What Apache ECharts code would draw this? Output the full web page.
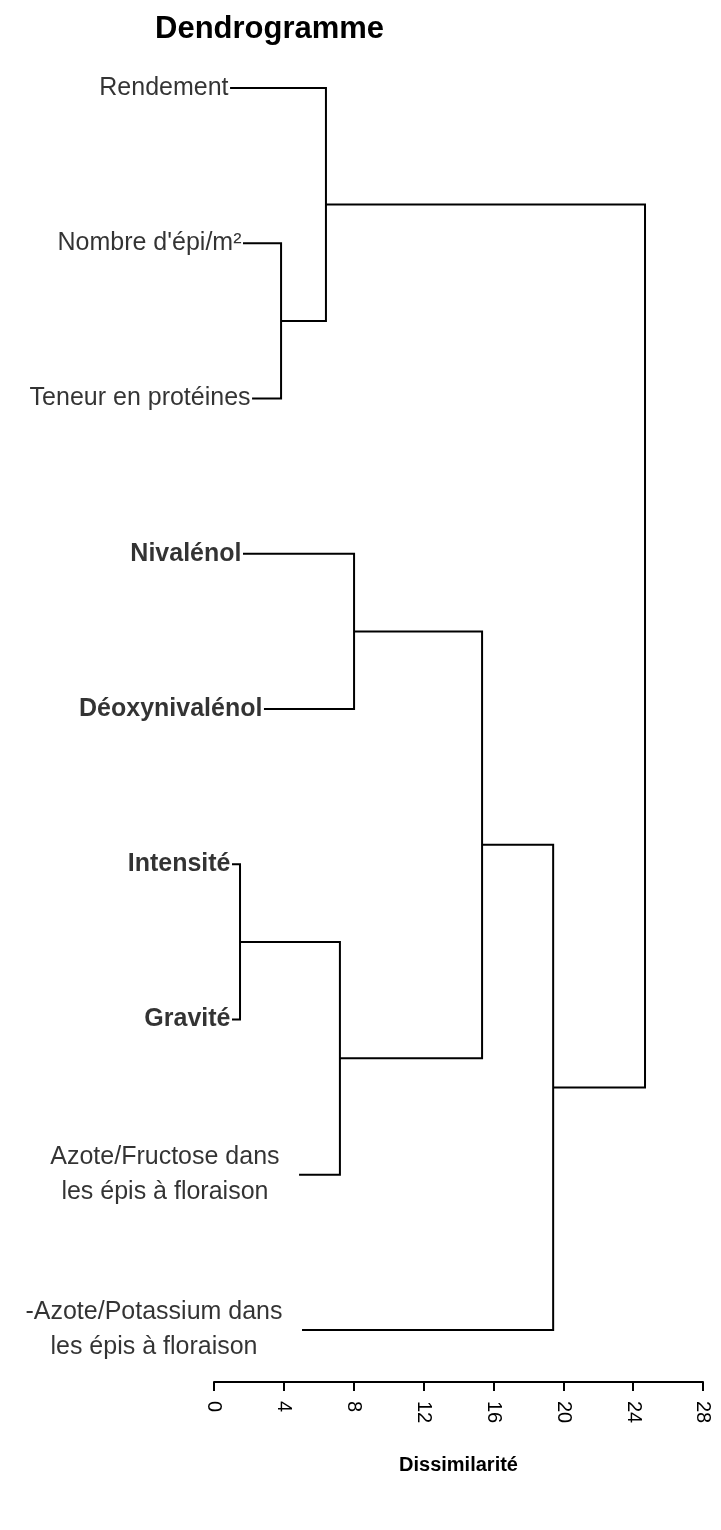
<!DOCTYPE html>
<html>
<head>
<meta charset="utf-8">
<script src="https://cdn.jsdelivr.net/npm/echarts@6/dist/echarts.min.js"></script>
<style>
  html, body { margin: 0; padding: 0; background: #fff; }
  #chart { width: 721px; height: 1530px; }
</style>
</head>
<body>
<div id="chart"></div>
<script>
// feuilles, de haut en bas
var leafNames = ['Rendement', "Nombre d'épi/m²", 'Teneur en protéines', 'Nivalénol', 'Déoxynivalénol',
  'Intensité', 'Gravité', 'Azote/Fructose dans\nles épis à floraison', '-Azote/Potassium dans\nles épis à floraison'];
var leafStart = [0.92, 1.66, 2.18, 1.66, 2.86, 1.03, 1.03, 4.87, 5.04];
// regroupements : noeud A + noeud B -> nouveau noeud (9, 10, ...)
var mergeA = [1, 0, 3, 5, 12, 11, 14, 10];
var mergeB = [2, 9, 4, 6, 7, 13, 8, 15];
var mergeHeight = [3.84, 6.41, 8.02, 1.49, 7.21, 15.35, 19.42, 24.68];
var xTicks = [0, 28, 4];

var boldNames = ['Nivalénol', 'Déoxynivalénol', 'Intensité', 'Gravité'];
var font = "'Liberation Sans', Arial, sans-serif";

var nodeX = leafStart.slice();
var nodeY = leafNames.map(function (n, i) { return i; });
var links = [];
for (var k = 0; k < mergeA.length; k++) {
  var a = mergeA[k], b = mergeB[k], h = mergeHeight[k];
  links.push({ coords: [[nodeX[a], nodeY[a]], [h, nodeY[a]], [h, nodeY[b]], [nodeX[b], nodeY[b]]] });
  nodeX.push(h);
  nodeY.push((nodeY[a] + nodeY[b]) / 2);
}

var labelData = leafNames.map(function (name, i) {
  var multi = name.indexOf('\n') >= 0;
  return {
    value: [leafStart[i], i],
    name: name,
    label: { distance: multi ? 19 : 1 }
  };
});

var chart = echarts.init(document.getElementById('chart'));
chart.setOption({
  animation: false,
  backgroundColor: '#fff',
  title: {
    text: 'Dendrogramme',
    left: 150,
    top: 9,
    textStyle: { fontFamily: font, fontSize: 31, fontWeight: 'bold', color: '#000' }
  },
  grid: { left: 214, right: 18, top: 88, bottom: 200 },
  xAxis: {
    type: 'value',
    min: xTicks[0],
    max: xTicks[1],
    interval: xTicks[2],
    offset: 52,
    name: 'Dissimilarité',
    nameLocation: 'middle',
    nameGap: 73,
    nameTextStyle: { fontFamily: font, fontSize: 20, fontWeight: 'bold', color: '#000' },
    axisLine: { onZero: false, lineStyle: { color: '#000', width: 2 } },
    axisTick: { length: 9, lineStyle: { color: '#000', width: 2 } },
    splitLine: { show: false },
    axisLabel: { rotate: -90, margin: 19, fontFamily: font, fontSize: 20, color: '#000' }
  },
  yAxis: {
    type: 'value',
    min: 0,
    max: 8,
    inverse: true,
    show: false
  },
  series: [
    {
      type: 'lines',
      coordinateSystem: 'cartesian2d',
      polyline: true,
      silent: true,
      lineStyle: { color: '#000', width: 2, opacity: 1, join: 'miter' },
      data: links
    },
    {
      type: 'scatter',
      symbolSize: 1,
      itemStyle: { color: 'transparent' },
      label: {
        show: true,
        position: 'left',
        color: '#000',
        fontFamily: font,
        fontSize: 25,
        formatter: function (p) {
          var tag = boldNames.indexOf(p.name) >= 0 ? 'b' : 'n';
          return p.name.split('\n').map(function (s) { return '{' + tag + '|' + s + '}'; }).join('\n');
        },
        rich: {
          n: { fontFamily: font, fontSize: 25, color: '#000', align: 'center', lineHeight: 35 },
          b: { fontFamily: font, fontSize: 25, color: '#000', fontWeight: 'bold', align: 'center', lineHeight: 35 }
        }
      },
      data: labelData
    }
  ]
});
window.onresize = chart.resize;
</script>
</body>
</html>
